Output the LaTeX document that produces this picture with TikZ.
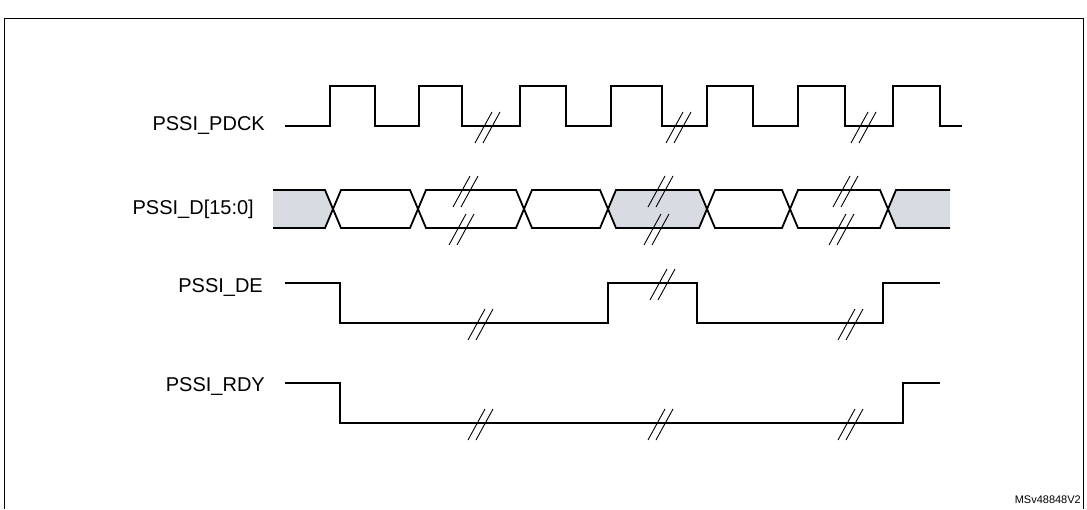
\documentclass[tikz,border=0pt]{standalone}
\usepackage{fontspec}
\setmainfont{Liberation Sans}
\definecolor{busgray}{RGB}{216,219,226}
\begin{document}
\begin{tikzpicture}[x=1pt,y=-1pt,
 sig/.style={line width=1.8pt,line join=miter},
 brk/.style={line width=0.9pt},
 lbl/.style={anchor=east,font=\fontsize{20}{22}\selectfont,inner sep=0pt}]
\useasboundingbox (0,0) rectangle (1087,509);
\draw[line width=0.8pt] (4,509) -- (4,18) -- (1083,18) -- (1083,509);
\newcommand\brkmark[2]{\draw[brk] (#1-12,#2+17) -- (#1+5,#2-14); \draw[brk] (#1-4,#2+17) -- (#1+13,#2-14);}
% labels
\node[lbl] (l1) at (265,126) {PSSI\_PDCK};
\node[lbl] (l2) at (254,209) {PSSI\_D[15:0]};
\node[lbl] (l3) at (263,287) {PSSI\_DE};
\node[lbl] (l4) at (265,386) {PSSI\_RDY};
\node[anchor=south east,font=\fontsize{11}{13}\selectfont,inner sep=0pt] (ref) at (1081,504) {MSv48848V2};
% clock
\draw[sig] (285,126) -- (330,126) -- (330,86) -- (375,86) -- (375,126) -- (419,126) -- (419,86) -- (462,86) -- (462,126)
 -- (520,126) -- (520,86) -- (566,86) -- (566,126) -- (611,126) -- (611,86) -- (662,86) -- (662,126)
 -- (707,126) -- (707,86) -- (753,86) -- (753,126) -- (798,126) -- (798,86) -- (845,86) -- (845,126)
 -- (893,126) -- (893,86) -- (940,86) -- (940,126) -- (962,126);
\brkmark{487}{126}\brkmark{678}{126}\brkmark{863}{126}
% data bus
\fill[busgray] (273,190) -- (325,190) -- (333,209) -- (325,228) -- (273,228) -- cycle;
\fill[busgray] (616,190) -- (699,190) -- (707,209) -- (699,228) -- (616,228) -- (608,209) -- cycle;
\fill[busgray] (896,190) -- (950,190) -- (950,228) -- (896,228) -- (888,209) -- cycle;
\foreach \a/\b in {333/418,418/524,524/608,608/707,707/790,790/888}{
 \draw[sig] (\a,209) -- (\a+8,190) -- (\b-8,190) -- (\b,209) -- (\b-8,228) -- (\a+8,228) -- cycle;}
\draw[sig] (273,190) -- (325,190) -- (333,209) -- (325,228) -- (273,228);
\draw[sig] (950,190) -- (896,190) -- (888,209) -- (896,228) -- (950,228);
\foreach \x in {465,660,845}{\brkmark{\x}{190}\brkmark{\x-4}{228}}
% DE
\draw[sig] (285,283) -- (340,283) -- (340,323) -- (608,323) -- (608,283) -- (697,283) -- (697,323) -- (883,323) -- (883,283) -- (940,283);
\brkmark{480}{323}\brkmark{662}{283}\brkmark{850}{323}
% RDY
\draw[sig] (285,383) -- (340,383) -- (340,423) -- (903,423) -- (903,383) -- (940,383);
\brkmark{480}{423}\brkmark{660}{423}\brkmark{850}{423}
\end{tikzpicture}
\end{document}
